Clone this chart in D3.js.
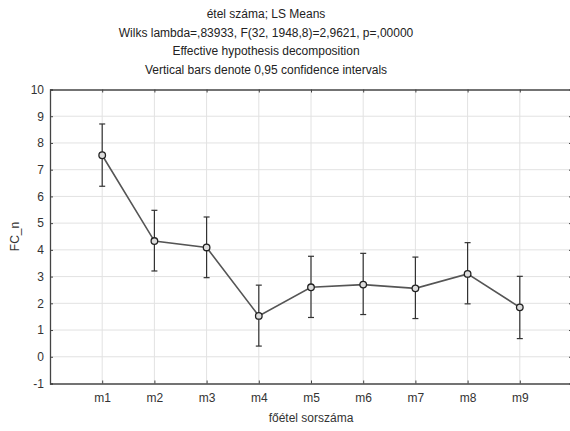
<!DOCTYPE html>
<html>
<head>
<meta charset="utf-8">
<script src="https://cdn.jsdelivr.net/npm/d3@7"></script>
<style>
  html, body { margin: 0; background: #fff; overflow: hidden; }
  svg { display: block; }
  text { font-family: "Liberation Sans", Arial, sans-serif; }
</style>
</head>
<body>
<script>
// LS means + 95% CI
const categories = ["m1", "m2", "m3", "m4", "m5", "m6", "m7", "m8", "m9"];
const means = [7.54, 4.33, 4.09, 1.53, 2.6, 2.7, 2.56, 3.1, 1.85];
const upper = [8.71, 5.48, 5.23, 2.68, 3.76, 3.87, 3.73, 4.27, 3.01];
const lower = [6.38, 3.21, 2.96, 0.4, 1.47, 1.58, 1.43, 1.98, 0.68];
const yTicks = [-1, 0, 1, 2, 3, 4, 5, 6, 7, 8, 9, 10];
const titles = [
  "étel száma; LS Means",
  "Wilks lambda=,83933, F(32, 1948,8)=2,9621, p=,00000",
  "Effective hypothesis decomposition",
  "Vertical bars denote 0,95 confidence intervals"
];

const W = 570, H = 431;
const pLeft = 50, pRight = 572, pTop = 89.5, pBottom = 383.5;

const svg = d3.select("body").append("svg")
    .attr("width", W)
    .attr("height", H)

const x = d3.scaleLinear().domain([0, categories.length + 1]).range([pLeft, pRight]);
const y = d3.scaleLinear().domain([-1, 10]).range([pBottom, pTop]);

// titres
svg.selectAll(".title")
    .data(titles)
    .enter()
    .append("text")
    .attr("class", "title")
    .attr("x", 266)
    .attr("y", (d, i) => 18 + i * 18.7)
    .attr("text-anchor", "middle")
    .attr("font-size", 12)
    .attr("fill", "#222")
    .text(d => d)

// grille
const grid = svg.append("g")
grid.selectAll(".hg")
    .data(yTicks.slice(1, -1))
    .enter()
    .append("line")
    .attr("x1", pLeft).attr("x2", pRight)
    .attr("y1", d => y(d)).attr("y2", d => y(d))
    .attr("stroke", "#e2e2e2")
grid.selectAll(".vg")
    .data(categories)
    .enter()
    .append("line")
    .attr("x1", (d, i) => x(i + 1)).attr("x2", (d, i) => x(i + 1))
    .attr("y1", pTop).attr("y2", pBottom)
    .attr("stroke", "#e2e2e2")

// axes
const yAxis = d3.axisLeft(y).tickValues(yTicks).tickSize(-3).tickPadding(6).tickFormat(d => String(d));
svg.append("g").attr("transform", `translate(${pLeft},0)`).call(yAxis)
    .call(g => g.selectAll("text").attr("font-size", 12).attr("fill", "#333").style("font-family", "Liberation Sans, Arial, sans-serif"))
// axe de droite : seulement les graduations, la ligne est hors de l'image
svg.append("g").attr("transform", `translate(${pRight},0)`)
    .call(d3.axisRight(y).tickValues(yTicks).tickSize(-3).tickFormat(""))
    .call(g => g.select(".domain").remove())

const xAxis = d3.axisBottom(x).tickValues(d3.range(1, categories.length + 1))
    .tickSize(-3).tickSizeOuter(0).tickPadding(10).tickFormat(d => categories[d - 1]);
svg.append("g").attr("transform", `translate(0,${pBottom})`).call(xAxis)
    .call(g => g.selectAll("text").attr("font-size", 12).attr("fill", "#333").style("font-family", "Liberation Sans, Arial, sans-serif"))
svg.append("g").attr("transform", `translate(0,${pTop})`)
    .call(d3.axisTop(x).tickValues(d3.range(1, categories.length + 1)).tickSize(-3).tickSizeOuter(0).tickFormat(""))

svg.selectAll(".domain").attr("stroke", "#444").attr("stroke-width", 1.3)
svg.selectAll(".tick line").attr("stroke", "#444")

// titres des axes
svg.append("text")
    .text("főétel sorszáma")
    .attr("x", (pLeft + pRight) / 2)
    .attr("y", 422)
    .attr("text-anchor", "middle")
    .attr("font-size", 12)
    .attr("fill", "#333")
svg.append("text")
    .text("FC_n")
    .attr("transform", `translate(19,${(pTop + pBottom) / 2}) rotate(-90)`)
    .attr("text-anchor", "middle")
    .attr("font-size", 12)
    .attr("fill", "#333")

// barres d'erreur
const bars = svg.append("g").attr("stroke", "#333").attr("stroke-width", 1.2)
categories.forEach((c, i) => {
    const cx = x(i + 1)
    bars.append("line").attr("x1", cx).attr("x2", cx).attr("y1", y(lower[i])).attr("y2", y(upper[i]))
    bars.append("line").attr("x1", cx - 3).attr("x2", cx + 3).attr("y1", y(lower[i])).attr("y2", y(lower[i]))
    bars.append("line").attr("x1", cx - 3).attr("x2", cx + 3).attr("y1", y(upper[i])).attr("y2", y(upper[i]))
})

// ligne
const line = d3.line().x((d, i) => x(i + 1)).y(d => y(d))
svg.append("path")
    .datum(means)
    .attr("d", line)
    .attr("fill", "none")
    .attr("stroke", "#555")
    .attr("stroke-width", 1.6)

svg.selectAll(".pt")
    .data(means)
    .enter()
    .append("circle")
    .attr("cx", (d, i) => x(i + 1))
    .attr("cy", d => y(d))
    .attr("r", 3.3)
    .attr("fill", "#ddd")
    .attr("stroke", "#222")
    .attr("stroke-width", 1.3)
</script>
</body>
</html>
